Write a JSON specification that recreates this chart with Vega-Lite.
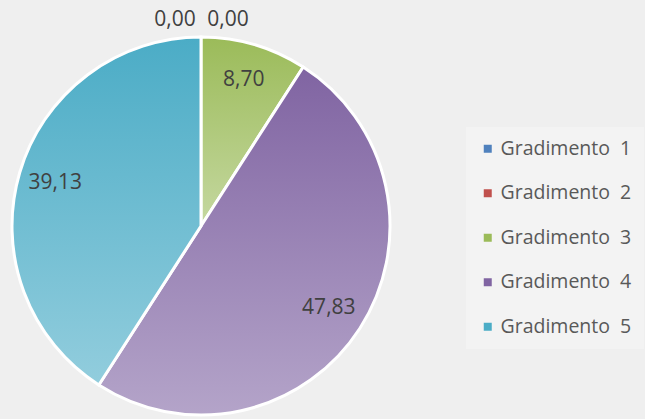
{
  "$schema": "https://vega.github.io/schema/vega-lite/v6.json",
  "autosize": {"type": "none"},
  "width": 402,
  "height": 452,
  "padding": {"left": 0, "top": 0, "right": 243, "bottom": 0},
  "background": "#efefef",
  "config": {
    "view": {"stroke": null},
    "locale": {"number": {"decimal": ",", "thousands": ".", "grouping": [3], "currency": ["", " €"]}},
    "font": "Open Sans"
  },
  "data": {
    "values": [
      {"g": "Gradimento\u00a0\u00a01", "v": 0},
      {"g": "Gradimento\u00a0\u00a02", "v": 0},
      {"g": "Gradimento\u00a0\u00a03", "v": 8.70},
      {"g": "Gradimento\u00a0\u00a04", "v": 47.83},
      {"g": "Gradimento\u00a0\u00a05", "v": 39.13}
    ]
  },
  "layer": [
    {
      "mark": {"type": "arc", "outerRadius": 189},
      "encoding": {
        "theta": {"field": "v", "type": "quantitative", "stack": true},
        "order": {"field": "g", "type": "nominal", "sort": "ascending"},
        "color": {
          "field": "g",
          "type": "nominal",
          "scale": {"range": ["#4f81bd", "#c0504d", "#9bbb59", "#8064a2", "#4bacc6"]},
          "legend": {
            "title": null,
            "orient": "none",
            "legendX": 466,
            "legendY": 127,
            "symbolType": "square",
            "symbolSize": 64,
            "symbolStrokeWidth": 0,
            "labelFont": "Open Sans",
            "labelFontSize": 19.5,
            "labelColor": "#595959",
            "labelOffset": 3,
            "rowPadding": 23.5,
            "padding": 12,
            "fillColor": "#f3f3f3"
          }
        }
      }
    },
    {
      "mark": {"type": "arc", "outerRadius": 189, "stroke": "white", "strokeWidth": 3},
      "encoding": {
        "theta": {"field": "v", "type": "quantitative", "stack": true},
        "order": {"field": "g", "type": "nominal", "sort": "ascending"},
        "fill": {
          "condition": [
            {"test": "datum.g == 'Gradimento\u00a0\u00a03'", "value": {"gradient": "linear", "x1": 0, "y1": 0, "x2": 0, "y2": 1, "stops": [{"offset": 0, "color": "#9bbb59"}, {"offset": 1, "color": "#c5d8a0"}]}},
            {"test": "datum.g == 'Gradimento\u00a0\u00a04'", "value": {"gradient": "linear", "x1": 0, "y1": 0, "x2": 0, "y2": 1, "stops": [{"offset": 0, "color": "#8064a2"}, {"offset": 1, "color": "#b4a4c9"}]}},
            {"test": "datum.g == 'Gradimento\u00a0\u00a05'", "value": {"gradient": "linear", "x1": 0, "y1": 0, "x2": 0, "y2": 1, "stops": [{"offset": 0, "color": "#4bacc6"}, {"offset": 1, "color": "#92cddd"}]}}
          ],
          "value": "#4f81bd"
        }
      }
    },
    {
      "transform": [{"filter": "datum.v > 0"}],
      "mark": {"type": "text", "radius": 152, "fontSize": 21, "color": "#404040"},
      "encoding": {
        "theta": {"field": "v", "type": "quantitative", "stack": true},
        "order": {"field": "g", "type": "nominal", "sort": "ascending"},
        "text": {"field": "v", "type": "quantitative", "format": ".2f"}
      }
    },
    {
      "transform": [{"filter": "datum.g == 'Gradimento\u00a0\u00a01'"}],
      "mark": {"type": "text", "radius": 206, "dx": -26, "fontSize": 21, "color": "#404040"},
      "encoding": {
        "theta": {"field": "v", "type": "quantitative", "stack": true},
        "text": {"field": "v", "type": "quantitative", "format": ".2f"}
      }
    },
    {
      "transform": [{"filter": "datum.g == 'Gradimento\u00a0\u00a02'"}],
      "mark": {"type": "text", "radius": 206, "dx": 27, "fontSize": 21, "color": "#404040"},
      "encoding": {
        "theta": {"field": "v", "type": "quantitative", "stack": true},
        "text": {"field": "v", "type": "quantitative", "format": ".2f"}
      }
    }
  ]
}
